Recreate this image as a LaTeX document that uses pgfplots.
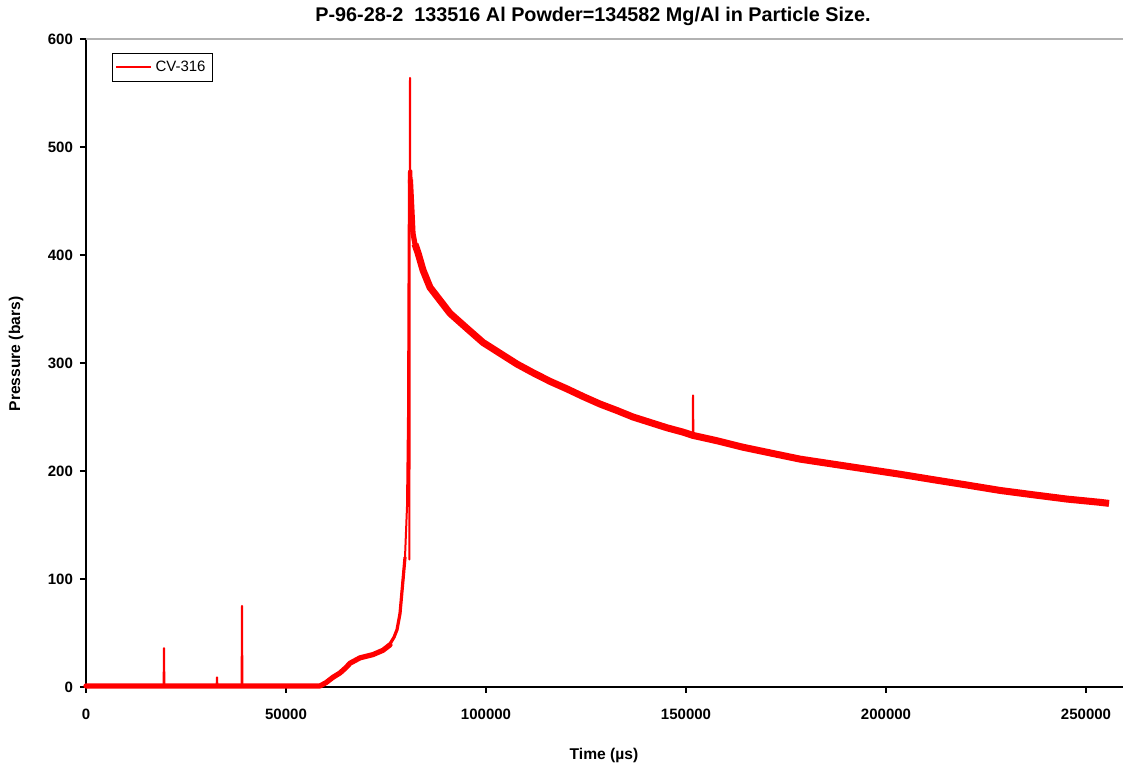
\documentclass[border=0pt]{standalone}
\usepackage{fontspec}
\setmainfont{Liberation Sans}
\usepackage{pgfplots}
\pgfplotsset{compat=1.18}
\begin{document}
\begin{tikzpicture}[x=1pt,y=1pt]
\path[use as bounding box] (-43,-41) rectangle (518.5,343.5);
\begin{axis}[
  at={(0,0)}, anchor=south west, scale only axis,
  width=518.5pt, height=324pt,
  xmin=0, xmax=259250, ymin=0, ymax=600,
  axis x line*=bottom, axis y line*=left,
  axis line style={-, black, line width=0.8pt},
  tick align=outside, tick style={black, line width=0.6pt},
  major tick length=3pt,
  xtick={0,50000,100000,150000,200000,250000},
  xticklabels={0,50000,100000,150000,200000,250000},
  ytick={0,100,200,300,400,500,600},
  yticklabels={0,100,200,300,400,500,600},
  scaled x ticks=false,
  ticklabel style={font=\bfseries\fontsize{7.5}{9}\selectfont},
  xticklabel style={yshift=-4.5pt},
  legend style={at={(0.025,0.978)}, anchor=north west, draw=black, line width=0.5pt,
    fill=white, font=\fontsize{7.5}{9}\selectfont, inner sep=1.5pt, legend cell align=left},
  clip=false,
]
\draw[gray!60, line width=1pt] (axis cs:0,600) -- (axis cs:259250,600);
\addplot[red, line width=1pt, line join=round] coordinates {
(0,1)(19400,1)(19500,36)(19600,1)(32650,1)(32750,9)(32850,1)(38900,1)(39000,75)(39100,1)
(58500,1)(60000,4)(61750,9)(63500,13)(65000,18)(66000,22)(68500,27)(71750,30)(74250,34)
(76000,40)(77000,46)(77750,53)(78500,68)(79250,99)(79750,120)(80250,167)(80500,250)
(80650,400)(80750,478)(80850,118)(80950,470)(81000,564)(81050,480)(81200,470)(81350,478)
(81500,440)(81750,420)(82250,410)(83000,402)(84250,386)(86000,370)(88500,358)(91000,346)
(95250,332)(99250,319)(103500,309)(107750,299)(111750,291)(116000,283)(120250,276)
(124250,269)(128500,262)(132750,256)(136750,250)(141000,245)(145250,240)(149250,236)
(151700,233)(151750,270)(151850,233)(157750,228)(164250,222)(172000,216)(178500,211)
(191000,204)(203500,197)(211750,192)(220250,187)(228500,182)(236750,178)(245250,174)
(253500,171)(255750,170)
};
\addlegendentry{CV-316}
\addplot[red, line width=2.6pt, line join=round, line cap=round, forget plot] coordinates {
(0,1)(58500,1)(60000,4)(61750,9)(63500,13)(65000,18)(66000,22)(68500,27)(71750,30)
(74250,34)(76000,39)
};
\addplot[red, line width=1.6pt, line join=round, line cap=round, forget plot] coordinates {
(74250,34)(76000,40)(77000,46)(77750,53)(78500,68)(79250,99)(79750,120)
};
\addplot[red, line width=2.6pt, line join=round, forget plot] coordinates {
(81100,470)(81500,440)(81750,420)(82250,410)(83000,402)
};
\addplot[red, line width=3.5pt, line join=round, forget plot] coordinates {
(82250,410)(83000,402)(84250,386)(86000,370)(88500,358)(91000,346)
(95250,332)(99250,319)(103500,309)(107750,299)(111750,291)(116000,283)(120250,276)
(124250,269)(128500,262)(132750,256)(136750,250)(141000,245)(145250,240)(149250,236)
(151700,233)(157750,228)(164250,222)(172000,216)(178500,211)
(191000,204)(203500,197)(211750,192)(220250,187)(228500,182)(236750,178)(245250,174)
(253500,171)(255750,170)
};
\end{axis}
\node[font=\bfseries\fontsize{9.9}{12}\selectfont] at (253.5,335.5) {P-96-28-2\ \ 133516 Al Powder=134582 Mg/Al in Particle Size.};
\node[font=\bfseries\fontsize{7.8}{9}\selectfont, rotate=90] at (-35,166.5) {Pressure (bars)};
\node[font=\bfseries\fontsize{7.8}{9}\selectfont] at (259,-34) {Time (µs)};
\end{tikzpicture}
\end{document}
